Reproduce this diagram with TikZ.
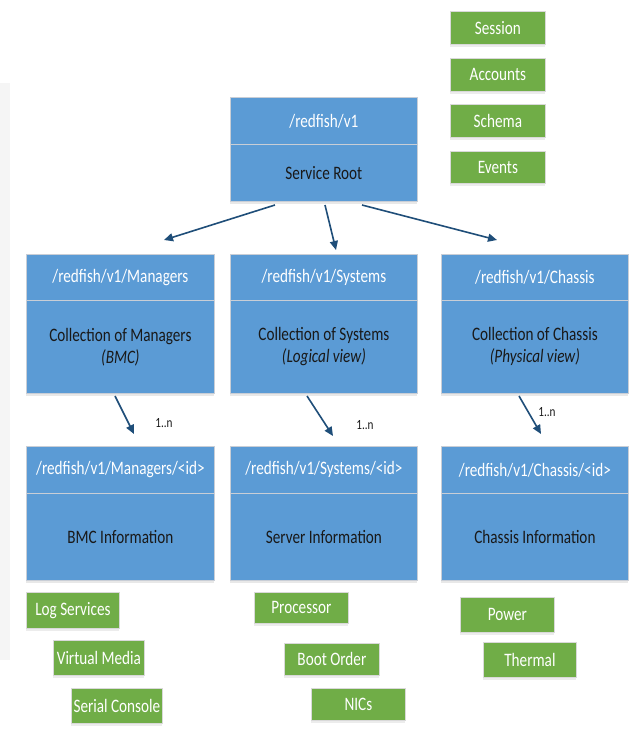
\documentclass[tikz,border=0pt]{standalone}
\usepackage{fontspec}
\setmainfont[FakeStretch=0.8]{Carlito}
\usetikzlibrary{arrows.meta,calc,shadows}
\definecolor{boxblue}{HTML}{5B9BD5}
\definecolor{boxgreen}{HTML}{70AD47}
\definecolor{arrowblue}{HTML}{1F4E79}
\definecolor{edgegray}{HTML}{C9CED6}
\begin{document}
\begin{tikzpicture}[x=1pt,y=-1pt,
  font=\fontsize{19}{22}\selectfont,
  hdr/.style={draw=edgegray, fill=boxblue, line width=0.8pt, anchor=north west, inner sep=0pt, text=white,
    drop shadow={opacity=0.18, shadow xshift=0pt, shadow yshift=-3pt}},
  bodybox/.style={draw=edgegray, fill=boxblue, line width=0.8pt, anchor=north west, inner sep=0pt, text=black!90,
    align=center, drop shadow={opacity=0.18, shadow xshift=0pt, shadow yshift=-3pt}},
  gbox/.style={draw=black!15, fill=boxgreen, line width=0.8pt, anchor=north west, inner sep=0pt, text=white,
    drop shadow={opacity=0.15, shadow xshift=0pt, shadow yshift=-3pt}},
  conn/.style={draw=arrowblue, line width=1.6pt, -{Triangle[length=9pt,width=8pt]}},
  mult/.style={font=\fontsize{14}{16}\selectfont, text=black!90, inner sep=0pt}
]
\useasboundingbox (0,0) rectangle (629,740);
\fill[white] (0,0) rectangle (629,740);
\fill[black!4] (0,83) rectangle (10,660);

% Service root
\node[hdr, minimum width=187, minimum height=47] (rooth) at (230,97) {/redfish/v1};
\node[bodybox, minimum width=187, minimum height=57] (root) at (230,144) {Service Root};

% top-right green boxes
\node[gbox, minimum width=95, minimum height=33] (session) at (450,11) {Session};
\node[gbox, minimum width=95, minimum height=33] (accounts) at (450,58) {Accounts};
\node[gbox, minimum width=95, minimum height=33] (schema) at (450,104) {Schema};
\node[gbox, minimum width=95, minimum height=32] (events) at (450,151) {Events};

% collections
\node[hdr, minimum width=188, minimum height=46] (mgrh) at (26,254) {/redfish/v1/Managers};
\node[bodybox, minimum width=188, minimum height=93] (mgr) at (26,300) {Collection of Managers\\\textit{(BMC)}};
\node[hdr, minimum width=187, minimum height=46] (sysh) at (230,254) {/redfish/v1/Systems};
\node[bodybox, minimum width=187, minimum height=93] (sys) at (230,300) {Collection of Systems\\\textit{(Logical view)}};
\node[hdr, minimum width=187, minimum height=46] (chah) at (441,254) {/redfish/v1/Chassis};
\node[bodybox, minimum width=187, minimum height=93] (cha) at (441,300) {Collection of Chassis\\\textit{(Physical view)}};

% instances
\node[hdr, minimum width=188, minimum height=47] (mgridh) at (26,446) {/redfish/v1/Managers/<id>};
\node[bodybox, minimum width=188, minimum height=87] (mgrid) at (26,493) {BMC Information};
\node[hdr, minimum width=187, minimum height=47] (sysidh) at (230,446) {/redfish/v1/Systems/<id>};
\node[bodybox, minimum width=187, minimum height=87] (sysid) at (230,493) {Server Information};
\node[hdr, minimum width=187, minimum height=47] (chaidh) at (441,446) {/redfish/v1/Chassis/<id>};
\node[bodybox, minimum width=187, minimum height=87] (chaid) at (441,493) {Chassis Information};

% sub-resources
\node[gbox, minimum width=93, minimum height=36] (logs) at (26,592) {Log Services};
\node[gbox, minimum width=91, minimum height=35] (vmedia) at (53,640) {Virtual Media};
\node[gbox, minimum width=91, minimum height=35] (serial) at (71,688) {Serial Console};
\node[gbox, minimum width=94, minimum height=31] (proc) at (254,592) {Processor};
\node[gbox, minimum width=95, minimum height=32] (boot) at (284,643) {Boot Order};
\node[gbox, minimum width=94, minimum height=32] (nics) at (311,688) {NICs};
\node[gbox, minimum width=94, minimum height=35] (power) at (460,597) {Power};
\node[gbox, minimum width=93, minimum height=35] (thermal) at (483,642) {Thermal};

% connector end points
\coordinate (r1) at (275,205);
\coordinate (r2) at (325,205);
\coordinate (r3) at (362,205);
\coordinate (t1) at (164,240);
\coordinate (t2) at (336,250);
\coordinate (t3) at (497,240);
\coordinate (m1) at (115,396);
\coordinate (m2) at (134,434);
\coordinate (s1) at (307,396);
\coordinate (s2) at (333,436);
\coordinate (c1) at (519,396);
\coordinate (c2) at (541,434);

\draw[conn] (r1) -- (t1);
\draw[conn] (r2) -- (t2);
\draw[conn] (r3) -- (t3);
\draw[conn] (m1) -- (m2);
\draw[conn] (s1) -- (s2);
\draw[conn] (c1) -- (c2);

\node[mult] (n1) at (164,423) {1..n};
\node[mult] (n2) at (365,425) {1..n};
\node[mult] (n3) at (547,412) {1..n};
\end{tikzpicture}
\end{document}
